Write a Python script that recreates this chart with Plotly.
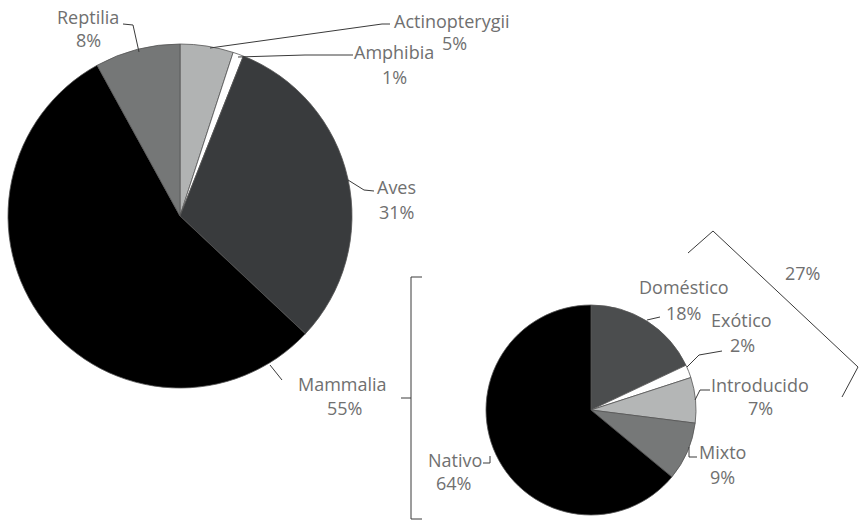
import plotly.graph_objects as go

W, H = 859, 522

# ---- data ----
class_labels = ["Actinopterygii", "Amphibia", "Aves", "Mammalia", "Reptilia"]
class_values = [5, 1, 31, 55, 8]
origin_labels = ["Doméstico", "Exótico", "Introducido", "Mixto", "Nativo"]
origin_values = [18, 2, 7, 9, 64]
bracket_label = "27%"

# ---- styles ----
class_colors = ["#b1b3b3", "#ffffff", "#393b3d", "#000000", "#757777"]
origin_colors = ["#4b4d4e", "#ffffff", "#b4b6b6", "#767878", "#000000"]
TXT = "#707070"
LN = "#3a3a3a"
FONT = "Open Sans"
FS = 18


def px(x):
    return x / W


def py(y):
    return 1 - y / H


fig = go.Figure()
fig.add_trace(go.Pie(
    labels=class_labels, values=class_values, sort=False, direction="clockwise",
    rotation=0, textinfo="none", hoverinfo="label+percent",
    marker=dict(colors=class_colors, line=dict(color="#555555", width=0.8)),
    domain=dict(x=[px(8), px(352)], y=[py(388), py(44)]),
    showlegend=False,
))
fig.add_trace(go.Pie(
    labels=origin_labels, values=origin_values, sort=False, direction="clockwise",
    rotation=0, textinfo="none", hoverinfo="label+percent",
    marker=dict(colors=origin_colors, line=dict(color="#555555", width=0.8)),
    domain=dict(x=[px(486), px(696)], y=[py(515), py(305)]),
    showlegend=False,
))

# label positions (pixel centers: name line, percent line)
class_pos = {
    "Actinopterygii": ((452, 21), (454, 43)),
    "Amphibia": ((394, 52), (394, 77)),
    "Aves": ((396, 187), (396, 212)),
    "Mammalia": ((342, 384), (344, 408)),
    "Reptilia": ((88, 17), (88, 40)),
}
origin_pos = {
    "Doméstico": ((684, 287), (683, 313)),
    "Exótico": ((741, 320), (742, 345)),
    "Introducido": ((760, 385), (760, 408)),
    "Mixto": ((722, 452), (722, 477)),
    "Nativo": ((455, 460), (453, 483)),
}

leaders = [
    [(123, 24), (133, 25), (139, 52)],            # Reptilia
    [(390, 24), (382, 24), (210, 48)],            # Actinopterygii
    [(238, 57), (305, 55), (353, 55)],            # Amphibia
    [(348, 180), (364, 190), (374, 191)],         # Aves
    [(270, 365), (282, 380)],                     # Mammalia
    [(647, 320), (660, 317)],                     # Doméstico
    [(687, 367), (699, 355), (722, 351)],         # Exótico
    [(695, 400), (700, 390), (710, 390)],         # Introducido
    [(689, 447), (689, 457), (697, 457)],         # Mixto
    [(483, 463), (490, 463), (490, 456)],         # Nativo
    # left bracket
    [(422, 277), (411, 277), (411, 519), (422, 519)],
    [(401, 398), (411, 398)],
    # right bracket
    [(688, 253), (713, 231), (858, 367), (842, 397)],
]

shapes = []
for pts in leaders:
    path = "M " + " L ".join(f"{px(x)},{py(y)}" for x, y in pts)
    shapes.append(dict(type="path", path=path, xref="paper", yref="paper",
                       line=dict(color=LN, width=1)))

annotations = []


def add_text(s, x, y):
    annotations.append(dict(text=s, x=px(x), y=py(y), xref="paper", yref="paper",
                            showarrow=False, xanchor="center", yanchor="middle",
                            font=dict(family=FONT, size=FS, color=TXT)))


for n, v in zip(class_labels, class_values):
    (x1, y1), (x2, y2) = class_pos[n]
    add_text(n, x1, y1)
    add_text(f"{v}%", x2, y2)
for n, v in zip(origin_labels, origin_values):
    (x1, y1), (x2, y2) = origin_pos[n]
    add_text(n, x1, y1)
    add_text(f"{v}%", x2, y2)

add_text(bracket_label, 802, 273)

fig.update_layout(
    width=W, height=H, margin=dict(l=0, r=0, t=0, b=0),
    paper_bgcolor="white", plot_bgcolor="white",
    shapes=shapes, annotations=annotations,
)

fig.write_html("out.html")
